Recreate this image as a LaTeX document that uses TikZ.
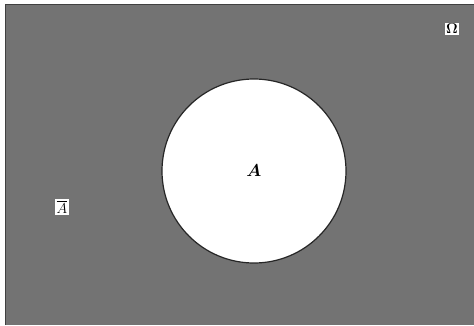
\documentclass[tikz,border=0pt]{standalone}
\usepackage{amsmath}
\begin{document}
\begin{tikzpicture}[x=1pt,y=-1pt,
  lab/.style={fill=white,inner sep=1.5pt,font=\fontsize{15}{17}\selectfont},
  setA/.style={circle,draw=black!85,line width=1.2pt,fill=white,minimum size=184pt,inner sep=0pt}]
\useasboundingbox (0,0) rectangle (474,325);
\fill[white] (0,0) rectangle (474,325);
\fill[black!55] (5,4) rectangle (474,325);
\draw[black!75,line width=0.8pt] (5.4,325) -- (5.4,4.4) -- (474,4.4);
\node[setA,font=\fontsize{16}{18}\selectfont] (A) at (254,171) {$\boldsymbol{A}$};
\node[lab] (Om) at (452,29) {$\mathbf{\Omega}$};
\node[lab] (Ac) at (62,207) {$\overline{A}$};
\end{tikzpicture}
\end{document}
